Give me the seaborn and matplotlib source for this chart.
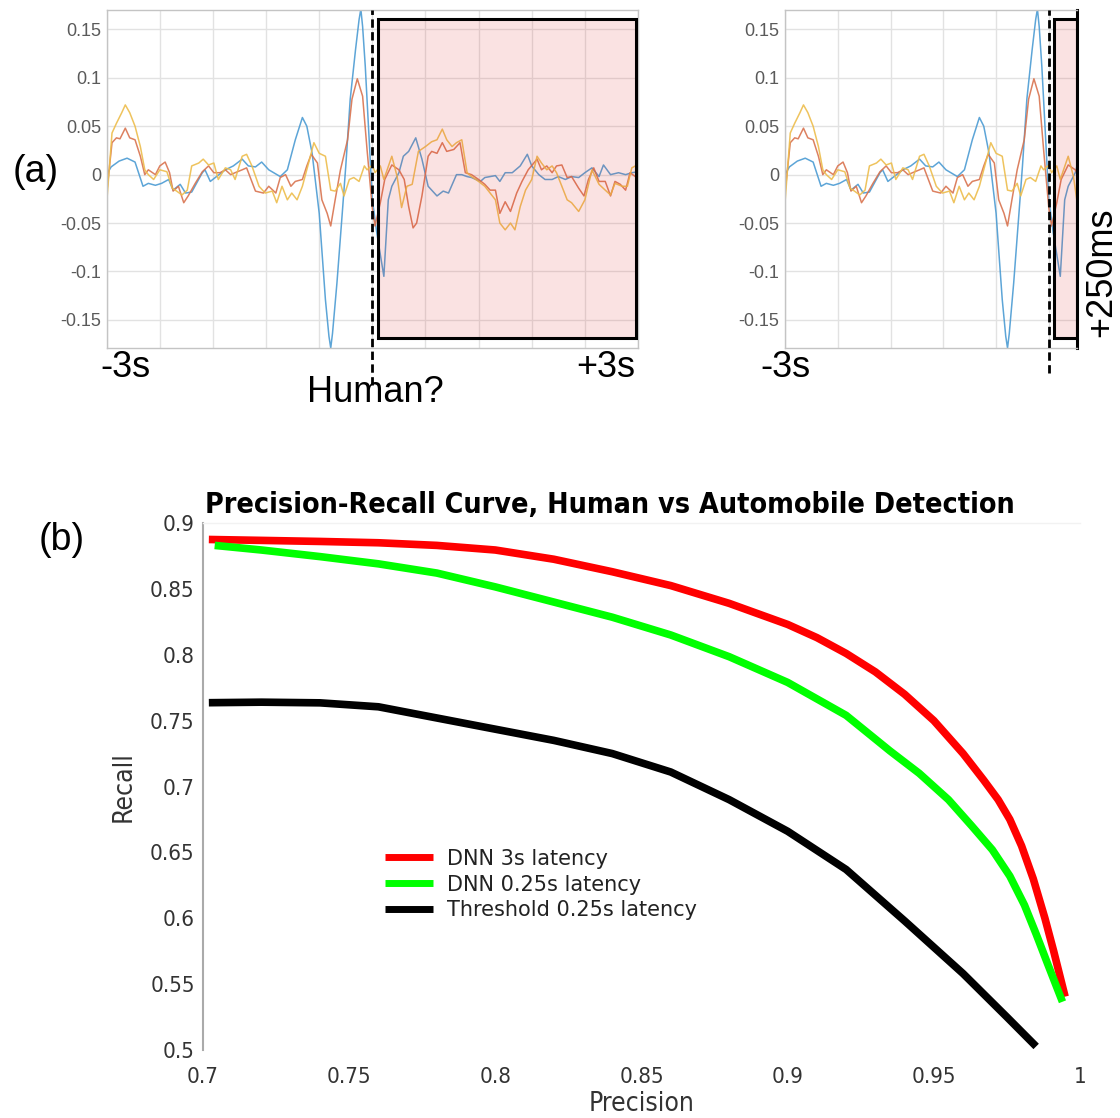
import numpy as np
import pandas as pd
import matplotlib
matplotlib.use("Agg")
import matplotlib.pyplot as plt
import seaborn as sns
from matplotlib.patches import Rectangle

# ---------------- (a) signal traces: time [s], amplitude ----------------
blue_t = [-3.00, -2.95, -2.86, -2.77, -2.68, -2.59, -2.53, -2.45, -2.38, -2.30, -2.25, -2.17, -2.11, -2.04,
          -1.92, -1.89, -1.83, -1.76, -1.66, -1.57, -1.47, -1.40, -1.32, -1.25, -1.17, -1.04, -0.96, -0.87,
          -0.79, -0.74, -0.68, -0.60, -0.53, -0.49, -0.47, -0.45, -0.40, -0.34, -0.30, -0.25, -0.19, -0.15,
          -0.13, -0.11, -0.08, -0.04, 0.00, 0.05, 0.13, 0.18, 0.22, 0.30, 0.35, 0.41, 0.49, 0.56, 0.63, 0.73,
          0.80, 0.86, 0.95, 1.01, 1.07, 1.12, 1.22, 1.27, 1.33, 1.39, 1.44, 1.50, 1.58, 1.67, 1.75, 1.80,
          1.88, 1.95, 2.03, 2.10, 2.18, 2.25, 2.33, 2.40, 2.48, 2.56, 2.61, 2.69, 2.78, 2.86, 2.93, 3.00]
blue_v = [0.000, 0.008, 0.014, 0.017, 0.013, -0.012, -0.009, -0.011, -0.009, -0.005, -0.016, -0.010, -0.019, -0.018,
          0.002, 0.005, -0.007, -0.002, 0.005, 0.009, 0.016, 0.009, 0.008, 0.013, 0.005, -0.002, 0.005, 0.036,
          0.059, 0.050, 0.022, -0.040, -0.129, -0.167, -0.179, -0.164, -0.112, -0.040, 0.009, 0.078, 0.129, 0.160,
          0.171, 0.153, 0.112, 0.043, -0.026, -0.060, -0.105, -0.026, -0.012, 0.002, 0.019, 0.024, 0.038, 0.016, -0.012, -0.022,
          -0.017, -0.019, 0.000, 0.000, -0.002, -0.003, -0.007, -0.003, -0.002, -0.001, -0.007, 0.002, 0.002, 0.009, 0.021, 0.009,
          0.000, -0.005, -0.005, -0.002, -0.005, -0.002, -0.003, 0.002, 0.007, -0.002, 0.010, 0.000, 0.002, 0.000, 0.002, 0.003]

orange_t = [-3.00, -2.94, -2.89, -2.85, -2.79, -2.74, -2.68, -2.62, -2.57, -2.53, -2.45, -2.40, -2.34, -2.29,
            -2.25, -2.19, -2.13, -2.08, -2.00, -1.92, -1.85, -1.79, -1.72, -1.66, -1.60, -1.55, -1.47, -1.42,
            -1.32, -1.23, -1.17, -1.09, -1.04, -0.98, -0.92, -0.87, -0.79, -0.74, -0.69, -0.62, -0.57, -0.51,
            -0.47, -0.42, -0.36, -0.28, -0.23, -0.17, -0.11, -0.06, 0.00, 0.03, 0.09, 0.14, 0.22, 0.30, 0.36,
            0.41, 0.46, 0.50, 0.56, 0.63, 0.67, 0.73, 0.79, 0.84, 0.92, 0.99, 1.05, 1.12, 1.20, 1.27, 1.33,
            1.39, 1.44, 1.50, 1.56, 1.63, 1.69, 1.76, 1.86, 1.91, 1.97, 2.03, 2.08, 2.14, 2.20, 2.25, 2.33,
            2.39, 2.44, 2.50, 2.56, 2.63, 2.69, 2.74, 2.80, 2.86, 2.91, 2.97, 3.00]
orange_v = [-0.019, 0.033, 0.038, 0.037, 0.048, 0.038, 0.036, 0.019, 0.000, 0.005, 0.000, 0.009, 0.013, 0.002,
            -0.017, -0.012, -0.029, -0.022, -0.009, 0.003, 0.009, 0.002, 0.002, 0.005, 0.000, 0.002, 0.005, 0.007,
            -0.017, -0.019, -0.012, -0.019, -0.003, 0.000, -0.012, -0.007, -0.005, 0.009, 0.021, 0.012, -0.026, -0.040,
            -0.053, -0.026, 0.005, 0.036, 0.078, 0.099, 0.081, 0.026, -0.035, -0.053, -0.029, -0.005, 0.010, 0.005, -0.005,
            -0.033, -0.055, -0.050, -0.022, 0.019, 0.024, 0.022, 0.033, 0.024, 0.026, 0.033, 0.002, 0.000, -0.005, -0.010, -0.016,
            -0.016, -0.040, -0.028, -0.038, -0.019, -0.007, 0.005, 0.016, 0.005, 0.009, 0.002, 0.009, 0.010, -0.003, -0.002, -0.014,
            -0.022, -0.005, 0.007, -0.007, -0.007, -0.022, -0.007, -0.010, -0.016, 0.002, -0.002, 0.012]

yellow_t = [-3.00, -2.94, -2.89, -2.83, -2.79, -2.74, -2.68, -2.62, -2.57, -2.53, -2.47, -2.40, -2.32, -2.26,
            -2.21, -2.15, -2.09, -2.04, -1.96, -1.91, -1.85, -1.79, -1.74, -1.66, -1.60, -1.55, -1.47, -1.42,
            -1.36, -1.28, -1.21, -1.13, -1.08, -1.02, -0.96, -0.91, -0.85, -0.79, -0.72, -0.66, -0.60, -0.53,
            -0.47, -0.42, -0.36, -0.32, -0.26, -0.21, -0.15, -0.09, -0.06, 0.00, 0.03, 0.09, 0.13, 0.22, 0.28,
            0.33, 0.39, 0.45, 0.52, 0.60, 0.67, 0.73, 0.79, 0.84, 0.90, 0.95, 1.01, 1.07, 1.12, 1.20, 1.27,
            1.33, 1.39, 1.44, 1.50, 1.56, 1.61, 1.67, 1.73, 1.80, 1.86, 1.91, 1.97, 2.03, 2.08, 2.14, 2.20,
            2.25, 2.33, 2.40, 2.48, 2.56, 2.63, 2.69, 2.74, 2.82, 2.88, 2.93, 2.99, 3.00]
yellow_v = [-0.029, 0.043, 0.053, 0.064, 0.072, 0.064, 0.050, 0.029, 0.005, 0.000, -0.005, 0.005, 0.003, -0.014,
            -0.017, -0.021, -0.016, 0.009, 0.012, 0.016, 0.010, 0.012, -0.005, 0.007, 0.005, -0.005, 0.019, 0.021,
            0.009, -0.012, -0.019, -0.017, -0.029, -0.012, -0.026, -0.019, -0.026, -0.012, 0.012, 0.033, 0.022, 0.019,
            -0.016, -0.017, -0.009, -0.022, -0.005, -0.003, -0.007, 0.009, 0.005, 0.010, 0.002, 0.009, -0.005, 0.019, -0.002,
            -0.034, -0.012, -0.010, 0.024, 0.029, 0.034, 0.036, 0.047, 0.036, 0.029, 0.033, 0.036, 0.002, -0.002, -0.007, -0.012,
            -0.019, -0.026, -0.050, -0.057, -0.050, -0.057, -0.033, -0.016, -0.005, 0.019, 0.012, 0.005, 0.009, 0.002, -0.012, -0.026,
            -0.029, -0.038, -0.026, 0.005, -0.010, -0.016, -0.021, -0.009, -0.012, -0.012, 0.007, 0.010, 0.020]

amp_ticks = [-0.15, -0.1, -0.05, 0, 0.05, 0.1, 0.15]
amp_tick_labels = ["-0.15", "-0.1", "-0.05", "0", "0.05", "0.1", "0.15"]

# ---------------- (b) precision-recall curves ----------------
series_names = ["DNN 3s latency", "DNN 0.25s latency", "Threshold 0.25s latency"]
dnn3_precision = [0.702, 0.72, 0.74, 0.76, 0.78, 0.80, 0.82, 0.84, 0.86, 0.88, 0.90, 0.91, 0.92, 0.93,
                  0.94, 0.95, 0.96, 0.967, 0.972, 0.976, 0.980, 0.984, 0.988, 0.991, 0.9949]
dnn3_recall = [0.8875, 0.8868, 0.8860, 0.8850, 0.8830, 0.8795, 0.8725, 0.8630, 0.8525, 0.8390, 0.8230, 0.8130,
               0.8010, 0.7870, 0.7700, 0.7500, 0.7250, 0.7050, 0.6900, 0.6750, 0.6550, 0.6300, 0.6000, 0.5750, 0.5405]
dnn025_precision = [0.704, 0.72, 0.74, 0.76, 0.78, 0.80, 0.82, 0.84, 0.86, 0.88, 0.90, 0.92, 0.935, 0.945,
                    0.955, 0.963, 0.970, 0.976, 0.981, 0.985, 0.989, 0.994]
dnn025_recall = [0.8830, 0.8795, 0.8745, 0.8690, 0.8620, 0.8515, 0.8400, 0.8285, 0.8150, 0.7985, 0.7790, 0.7540,
                 0.7270, 0.7100, 0.6900, 0.6700, 0.6520, 0.6320, 0.6100, 0.5880, 0.5650, 0.5366]
thr_precision = [0.702, 0.72, 0.74, 0.76, 0.78, 0.80, 0.82, 0.84, 0.86, 0.88, 0.90, 0.92, 0.94, 0.96, 0.975, 0.985]
thr_recall = [0.7636, 0.7640, 0.7635, 0.7605, 0.7520, 0.7435, 0.7350, 0.7250, 0.7110, 0.6900, 0.6660, 0.6370,
              0.5980, 0.5580, 0.5250, 0.5027]
pr_colors = ["#ff0000", "#00ff00", "#000000"]
precision_ticks = [0.7, 0.75, 0.8, 0.85, 0.9, 0.95, 1.0]
precision_tick_labels = ["0.7", "0.75", "0.8", "0.85", "0.9", "0.95", "1"]
recall_ticks = [0.5, 0.55, 0.6, 0.65, 0.7, 0.75, 0.8, 0.85, 0.9]
recall_tick_labels = ["0.5", "0.55", "0.6", "0.65", "0.7", "0.75", "0.8", "0.85", "0.9"]

sns.set_theme(style="white")
plt.rcParams["font.family"] = ["DejaVu Sans"]

W, H = 1120, 1118
fig = plt.figure(figsize=(W / 100, H / 100), dpi=100)
fig.patch.set_facecolor("white")


def px_box(left, top, right, bottom):
    return [left / W, 1 - bottom / H, (right - left) / W, (bottom - top) / H]


def px(x, y):
    return x / W, 1 - y / H


trace_colors = ["#4b9bd3", "#d9734f", "#edbd4c"]
traces = [(blue_t, blue_v), (orange_t, orange_v), (yellow_t, yellow_v)]


def draw_signal(ax, xmax, win_x0, win_x1, dash_low):
    for (t, v), c in zip(traces, trace_colors):
        sns.lineplot(x=t, y=v, ax=ax, color=c, lw=1.1, alpha=0.9, sort=False, estimator=None, zorder=2)
    ax.set_xlim(-3, xmax)
    ax.set_ylim(-0.179, 0.170)
    ax.set_xticks(np.arange(-3, xmax + 1e-6, 0.6))
    ax.set_xticklabels([])
    ax.set_yticks(amp_ticks)
    ax.set_yticklabels(amp_tick_labels, family="Liberation Sans", fontsize=13, color="#5a5a5a")
    ax.tick_params(axis="both", length=0, pad=4)
    ax.grid(True, color="#e2e2e2", lw=1.0, zorder=0)
    ax.set_axisbelow(True)
    for s in ax.spines.values():
        s.set_color("#c4c4c4")
        s.set_linewidth(1.0)
    ax.add_patch(Rectangle((win_x0, -0.169), win_x1 - win_x0, 0.330,
                           facecolor=(0.88, 0.15, 0.15, 0.13), edgecolor="none", zorder=3))
    ax.add_patch(Rectangle((win_x0, -0.169), win_x1 - win_x0, 0.330,
                           facecolor="none", edgecolor="black", lw=2.2, zorder=4))
    ax.axvline(0, ymin=dash_low, ymax=1, color="black", ls=(0, (3.0, 1.6)), lw=2.0,
               clip_on=False, zorder=5)


ax1 = fig.add_axes(px_box(106.7, 10, 638, 348))
draw_signal(ax1, 3.0, 0.062, 2.975, -0.11)

ax2 = fig.add_axes(px_box(785, 10, 1077, 348))
draw_signal(ax2, 0.32, 0.057, 0.32, -0.075)
ax2.spines["right"].set_color("black")
ax2.spines["right"].set_linewidth(2.2)

big = dict(family="Liberation Sans", fontsize=26, color="black")
fig.text(*px(125, 368), "-3s", ha="center", va="center", **big)
fig.text(*px(606, 368), "+3s", ha="center", va="center", **big)
fig.text(*px(375, 393), "Human?", ha="center", va="center", **big)
fig.text(*px(785, 368), "-3s", ha="center", va="center", **big)
fig.text(*px(1119.5, 272), "+250ms", ha="right", va="center", rotation=90, **big)
fig.text(*px(36, 172), "(a)", ha="center", va="center", family="Liberation Sans", fontsize=27, color="black")
fig.text(*px(62, 540), "(b)", ha="center", va="center", family="Liberation Sans", fontsize=27, color="black")

# ---------------- (b) ----------------
ax3 = fig.add_axes(px_box(203, 523, 1080, 1050))
pr = pd.concat([
    pd.DataFrame({"precision": p, "recall": r, "method": name})
    for p, r, name in [(dnn3_precision, dnn3_recall, series_names[0]),
                       (dnn025_precision, dnn025_recall, series_names[1]),
                       (thr_precision, thr_recall, series_names[2])]
], ignore_index=True)
sns.lineplot(data=pr, x="precision", y="recall", hue="method", hue_order=series_names,
             palette=pr_colors, sort=False, estimator=None, lw=5.5, ax=ax3,
             solid_capstyle="butt", solid_joinstyle="round", clip_on=False)
ax3.set_xlim(0.7, 1.0)
ax3.set_ylim(0.5, 0.9)
cond = dict(family="DejaVu Sans", fontstretch="condensed")
ax3.set_xticks(precision_ticks)
ax3.set_xticklabels(precision_tick_labels, fontsize=16, color="#333333", **cond)
ax3.set_yticks(recall_ticks)
ax3.set_yticklabels(recall_tick_labels, fontsize=16, color="#333333", **cond)
ax3.tick_params(axis="both", length=0)
ax3.tick_params(axis="x", pad=12)
ax3.tick_params(axis="y", pad=6)
ax3.set_xlabel("Precision", fontsize=19, color="#333333", labelpad=3, **cond)
ax3.set_ylabel("Recall", fontsize=19, color="#333333", labelpad=10, **cond)
for side in ["right", "bottom"]:
    ax3.spines[side].set_visible(False)
ax3.spines["left"].set_color("#aaaaaa")
ax3.spines["left"].set_linewidth(1.5)
ax3.spines["top"].set_color("#f2f2f2")
ax3.spines["top"].set_linewidth(1.0)
fig.text(*px(610, 505), "Precision-Recall Curve, Human vs Automobile Detection",
         ha="center", va="center", fontsize=20.5, fontweight="bold", color="black", **cond)

leg = ax3.legend(loc="upper left", bbox_to_anchor=(0.2075, 0.382), frameon=False,
                 fontsize=15, handlelength=2.3, handletextpad=0.7, labelspacing=0.28,
                 borderpad=0, borderaxespad=0)
for line in leg.get_lines():
    line.set_linewidth(5)
for txt in leg.get_texts():
    txt.set_color("#222222")

fig.savefig("out.png", dpi=100, facecolor="white")
